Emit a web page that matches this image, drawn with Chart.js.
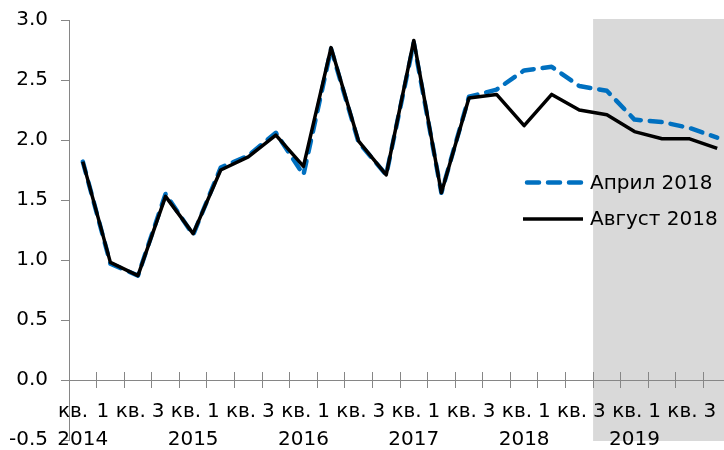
<!DOCTYPE html>
<html>
<head>
<meta charset="utf-8">
<script src="https://cdn.jsdelivr.net/npm/chart.js@4.4.1/dist/chart.umd.min.js"></script>
<style>
  html, body { margin: 0; padding: 0; background: #fff; width: 724px; height: 450px; overflow: hidden; }
  canvas { display: block; margin-top: -5px; }
</style>
</head>
<body>
<canvas id="c" width="760" height="470" style="width:760px;height:470px"></canvas>
<script>
// Quarterly categories, 2014–2019
const quarters = [
  '1 кв. 2014', '2 кв. 2014', '3 кв. 2014', '4 кв. 2014',
  '1 кв. 2015', '2 кв. 2015', '3 кв. 2015', '4 кв. 2015',
  '1 кв. 2016', '2 кв. 2016', '3 кв. 2016', '4 кв. 2016',
  '1 кв. 2017', '2 кв. 2017', '3 кв. 2017', '4 кв. 2017',
  '1 кв. 2018', '2 кв. 2018', '3 кв. 2018', '4 кв. 2018',
  '1 кв. 2019', '2 кв. 2019', '3 кв. 2019', '4 кв. 2019'
];

// Series: April 2018 and August 2018 vintages
const april2018 = [1.82, 0.97, 0.87, 1.55, 1.21, 1.77, 1.87, 2.06, 1.71, 2.76, 1.98, 1.71,
                   2.81, 1.56, 2.36, 2.42, 2.58, 2.61, 2.45, 2.41, 2.17, 2.15, 2.10, 2.02];
const august2018 = [1.82, 0.98, 0.87, 1.53, 1.22, 1.75, 1.86, 2.04, 1.78, 2.77, 1.99, 1.71,
                    2.83, 1.56, 2.35, 2.38, 2.12, 2.38, 2.25, 2.21, 2.07, 2.01, 2.01, 1.93];

// Axis tick labels
const yearLabels = ['2014', '2015', '2016', '2017', '2018', '2019'];
const quarterTickLabels = ['кв.', '1 кв.', '3 кв.', '1 кв.', '3 кв.', '1 кв.', '3 кв.',
                           '1 кв.', '3 кв.', '1 кв.', '3 кв.', '1 кв.', '3'];

// First quarter of the forecast horizon (shaded)
const forecastFrom = '4 кв. 2018';

Chart.defaults.font.family = '"DejaVu Sans", sans-serif';
Chart.defaults.font.size = 20;
Chart.defaults.color = '#000';

const AXIS_GREY = '#868686';
// half-length of the cross tick marks, in value units of the y axis (8 px)
const CROSS_HALF = 8 / 120;

const forecastShade = {
  id: 'forecastShade',
  beforeDraw(chart) {
    const { ctx, chartArea, scales: { x } } = chart;
    const idx = quarters.indexOf(forecastFrom);
    const half = (x.getPixelForValue(1) - x.getPixelForValue(0)) / 2;
    const left = x.getPixelForValue(idx) - half;
    ctx.save();
    ctx.fillStyle = '#D9D9D9';
    ctx.fillRect(left, chartArea.top - 1, chart.width - left, chartArea.bottom - chartArea.top + 2);
    ctx.restore();
  }
};

const insideLegend = {
  id: 'insideLegend',
  afterDatasetsDraw(chart) {
    const { ctx, chartArea } = chart;
    const x0 = chartArea.right - 206;
    const y0 = chartArea.top + 162.5;
    const rowGap = 36.5;
    chart.data.datasets.forEach((ds, i) => {
      const y = y0 + i * rowGap;
      ctx.save();
      ctx.strokeStyle = ds.borderColor;
      ctx.lineWidth = ds.borderWidth;
      ctx.lineCap = ds.borderCapStyle || 'butt';
      ctx.setLineDash(ds.borderDash || []);
      ctx.beginPath();
      if (ds.borderDash) {
        ctx.moveTo(x0 + 2, y);
        ctx.lineTo(x0 + 56, y);
      } else {
        ctx.moveTo(x0 - 2, y);
        ctx.lineTo(x0 + 58, y);
      }
      ctx.stroke();
      ctx.setLineDash([]);
      ctx.fillStyle = '#000';
      ctx.font = '20px "DejaVu Sans", sans-serif';
      ctx.textBaseline = 'middle';
      ctx.fillText(ds.label, x0 + 65, y + 1);
      ctx.restore();
    });
  }
};

new Chart(document.getElementById('c'), {
  type: 'line',
  data: {
    labels: quarters,
    datasets: [
      {
        label: 'Април 2018',
        data: april2018,
        borderColor: '#0070C0',
        borderWidth: 4.5,
        borderDash: [12, 9],
        borderCapStyle: 'round',
        borderJoinStyle: 'round',
        pointRadius: 0,
        tension: 0,
        order: 2
      },
      {
        label: 'Август 2018',
        data: august2018,
        borderColor: '#000000',
        borderWidth: 3.5,
        borderJoinStyle: 'round',
        pointRadius: 0,
        tension: 0,
        order: 1
      }
    ]
  },
  options: {
    responsive: false,
    animation: false,
    devicePixelRatio: 1,
    layout: { padding: { left: 0, right: 29, top: 20, bottom: 20 } },
    plugins: { legend: { display: false }, tooltip: { enabled: false } },
    scales: {
      y: {
        min: -0.5,
        max: 3,
        position: 'left',
        afterFit: s => { s.width = 69; },
        ticks: { stepSize: 0.5, padding: 13, callback: v => v.toFixed(1) },
        grid: { drawOnChartArea: false, tickLength: 8, color: AXIS_GREY },
        border: { color: AXIS_GREY }
      },
      // category axis: cross tick marks between quarters and the year labels
      x: {
        type: 'category',
        offset: true,
        position: { y: CROSS_HALF },
        grid: { offset: true, drawOnChartArea: false, tickLength: 16, color: AXIS_GREY },
        border: { display: false },
        ticks: {
          autoSkip: false,
          maxRotation: 0,
          padding: 40,
          callback: (v, i) => (i % 4 === 0 ? yearLabels[i / 4] : '')
        }
      },
      // quarter labels and the axis line at zero
      xq: {
        type: 'linear',
        axis: 'x',
        position: { y: 0 },
        min: -0.5,
        max: 23.5,
        grid: { display: false },
        border: { display: true, color: AXIS_GREY },
        afterBuildTicks: s => {
          s.ticks = quarterTickLabels.map((_, i) => ({ value: i === 0 ? -0.9 : 2 * i - 1.5 }));
        },
        ticks: {
          align: 'start',
          autoSkip: false,
          maxRotation: 0,
          padding: 12,
          callback: (v, i) => quarterTickLabels[i]
        }
      }
    }
  },
  plugins: [forecastShade, insideLegend]
});
</script>
</body>
</html>
